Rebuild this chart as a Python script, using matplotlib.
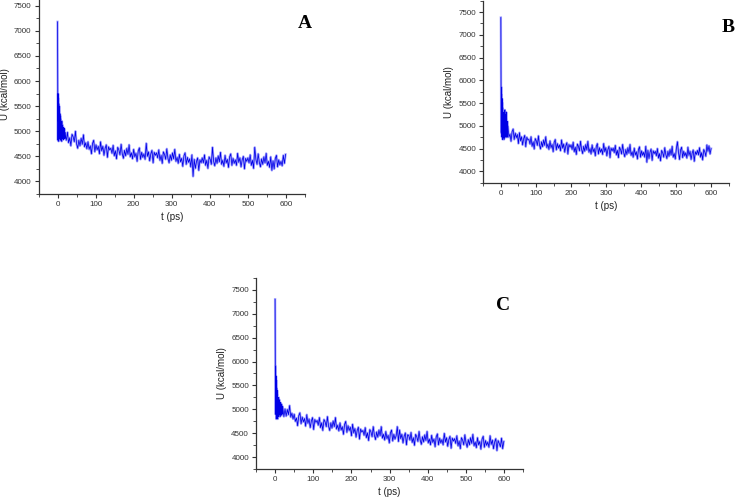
import numpy as np
import matplotlib
matplotlib.use("Agg")
import matplotlib.pyplot as plt
from matplotlib.ticker import MultipleLocator

# time axis (ps): 0.5 ps steps at the start, then 3 ps steps
t = np.concatenate([np.arange(0, 20, 0.5), np.arange(20, 600, 3)])

u_a = [7180, 5900, 4820, 5750, 5200, 5650, 4800, 5550, 5000, 5500,
       4850, 5400, 4900, 5350, 4820, 5300, 5000, 5250, 4850, 5200,
       4900, 5150, 4800, 5200, 4950, 5100, 4850, 5120, 4900, 5050,
       4830, 5080, 4950, 5000, 4860, 5060, 4900, 5020, 4850, 4980,
       4920, 4820, 4980, 4770, 4870, 4710, 4940, 4890, 4790, 5000,
       4750, 4660, 4820, 4710, 4860, 4740, 4930, 4690, 4770, 4650,
       4790, 4640, 4710, 4550, 4760, 4820, 4590, 4730, 4630, 4700,
       4550, 4790, 4610, 4700, 4520, 4660, 4730, 4480, 4690, 4630,
       4660, 4560, 4720, 4510, 4610, 4450, 4680, 4630, 4530, 4740,
       4550, 4460, 4620, 4510, 4660, 4540, 4730, 4490, 4570, 4450,
       4640, 4490, 4560, 4400, 4610, 4670, 4440, 4580, 4480, 4550,
       4440, 4760, 4500, 4590, 4410, 4550, 4620, 4370, 4580, 4520,
       4570, 4470, 4630, 4420, 4520, 4360, 4590, 4540, 4440, 4650,
       4460, 4370, 4530, 4420, 4570, 4450, 4640, 4400, 4480, 4360,
       4540, 4390, 4460, 4300, 4510, 4570, 4340, 4480, 4380, 4450,
       4290, 4530, 4100, 4440, 4260, 4400, 4470, 4220, 4430, 4370,
       4470, 4370, 4530, 4320, 4420, 4260, 4490, 4440, 4340, 4680,
       4400, 4310, 4470, 4360, 4510, 4390, 4580, 4340, 4420, 4300,
       4520, 4370, 4440, 4280, 4490, 4550, 4320, 4460, 4360, 4430,
       4320, 4560, 4380, 4470, 4290, 4430, 4500, 4250, 4460, 4400,
       4470, 4370, 4530, 4320, 4420, 4260, 4680, 4440, 4340, 4550,
       4380, 4290, 4450, 4340, 4490, 4370, 4560, 4320, 4400, 4280,
       4490, 4220, 4410, 4250, 4460, 4520, 4290, 4430, 4330, 4400,
       4310, 4520, 4360, 4540]

u_b = [7380, 5950, 4850, 5850, 5300, 5700, 4750, 5600, 4950, 5500,
       4700, 5400, 4900, 5300, 4750, 5250, 4850, 5200, 4700, 5150,
       4800, 5300, 4850, 5350, 4750, 5200, 4900, 5250, 4800, 5100,
       4750, 5300, 4850, 5150, 4800, 5050, 4750, 5100, 4800, 5000,
       5000, 4750, 4820, 4660, 4870, 4930, 4700, 4840, 4740, 4810,
       4610, 4850, 4670, 4760, 4580, 4720, 4790, 4540, 4750, 4690,
       4700, 4600, 4760, 4550, 4650, 4490, 4720, 4670, 4570, 4780,
       4580, 4490, 4650, 4540, 4690, 4570, 4760, 4520, 4600, 4480,
       4670, 4520, 4590, 4430, 4640, 4700, 4470, 4610, 4510, 4580,
       4450, 4690, 4510, 4600, 4420, 4560, 4630, 4380, 4590, 4530,
       4580, 4480, 4640, 4430, 4530, 4370, 4600, 4550, 4450, 4660,
       4480, 4390, 4550, 4440, 4590, 4470, 4660, 4420, 4500, 4380,
       4580, 4430, 4500, 4340, 4550, 4610, 4380, 4520, 4420, 4490,
       4370, 4610, 4430, 4520, 4340, 4480, 4550, 4300, 4510, 4450,
       4510, 4410, 4570, 4360, 4460, 4300, 4530, 4480, 4380, 4590,
       4410, 4320, 4480, 4370, 4520, 4400, 4590, 4350, 4430, 4310,
       4510, 4360, 4430, 4270, 4480, 4540, 4310, 4450, 4350, 4420,
       4310, 4550, 4200, 4460, 4280, 4420, 4490, 4240, 4450, 4390,
       4440, 4340, 4500, 4290, 4390, 4230, 4460, 4410, 4310, 4520,
       4370, 4280, 4440, 4330, 4480, 4360, 4550, 4310, 4390, 4270,
       4500, 4650, 4420, 4260, 4470, 4530, 4300, 4440, 4340, 4410,
       4290, 4530, 4350, 4440, 4260, 4400, 4470, 4220, 4430, 4370,
       4460, 4360, 4520, 4310, 4410, 4250, 4480, 4430, 4330, 4580,
       4440, 4560, 4380, 4500]

u_c = [7300, 6050, 4900, 5900, 5350, 5700, 4800, 5600, 5050, 5450,
       4850, 5400, 4950, 5300, 4800, 5250, 5000, 5200, 4850, 5250,
       4950, 5150, 4900, 5200, 5000, 5100, 4850, 5150, 4950, 5080,
       4900, 5120, 4980, 5050, 4880, 5100, 4950, 5020, 4900, 5060,
       5060, 4850, 5010, 4860, 5000, 4890, 5080, 4840, 4920, 4800,
       4900, 4750, 4820, 4660, 4870, 4930, 4700, 4840, 4740, 4810,
       4650, 4890, 4710, 4800, 4620, 4760, 4830, 4580, 4790, 4730,
       4770, 4670, 4830, 4620, 4720, 4560, 4790, 4740, 4640, 4850,
       4650, 4560, 4720, 4610, 4760, 4640, 4830, 4590, 4670, 4550,
       4720, 4570, 4640, 4480, 4690, 4750, 4520, 4660, 4560, 4630,
       4450, 4690, 4510, 4600, 4420, 4560, 4630, 4380, 4590, 4530,
       4560, 4460, 4620, 4410, 4510, 4350, 4580, 4530, 4430, 4640,
       4460, 4370, 4530, 4420, 4570, 4450, 4640, 4400, 4480, 4360,
       4540, 4390, 4460, 4300, 4510, 4570, 4340, 4480, 4380, 4450,
       4640, 4330, 4570, 4390, 4480, 4300, 4440, 4510, 4260, 4470,
       4460, 4360, 4520, 4310, 4410, 4250, 4480, 4430, 4330, 4540,
       4360, 4270, 4430, 4320, 4470, 4350, 4540, 4300, 4380, 4260,
       4460, 4310, 4380, 4220, 4430, 4490, 4260, 4400, 4300, 4370,
       4260, 4500, 4320, 4410, 4230, 4370, 4440, 4190, 4400, 4340,
       4390, 4290, 4450, 4240, 4340, 4180, 4410, 4360, 4260, 4470,
       4300, 4210, 4370, 4260, 4410, 4290, 4480, 4240, 4320, 4200,
       4410, 4260, 4330, 4170, 4380, 4440, 4210, 4350, 4250, 4320,
       4210, 4450, 4270, 4360, 4180, 4320, 4390, 4140, 4350, 4290,
       4220, 4400, 4180, 4330]

panel_labels = ["A", "B", "C"]
series = [u_a, u_b, u_c]

W, H = 736, 499
fig = plt.figure(figsize=(W / 100, H / 100), dpi=100)

# axes boxes in pixels: left, right, bottom, top
boxes = [(38.5, 305, 194, -6.8), (483.3, 729, 182.7, 0.7), (256, 523.3, 469.3, 277.7)]
letter_pos = [(305, 24), (728, 27), (503, 305)]

for (l, r, b, tp), u, lab, (lx, ly) in zip(boxes, series, panel_labels, letter_pos):
    ax = fig.add_axes([l / W, 1 - b / H, (r - l) / W, (b - tp) / H])
    ax.plot(t, u, color="#a8a8ff", lw=1.7)
    ax.plot(t, u, color="#0000e6", lw=0.55)
    ax.set_xlim(-50, 650)
    ax.set_ylim(3750, 7750)
    ax.xaxis.set_major_locator(MultipleLocator(100))
    ax.xaxis.set_minor_locator(MultipleLocator(50))
    ax.yaxis.set_major_locator(MultipleLocator(500))
    ax.yaxis.set_minor_locator(MultipleLocator(250))
    for s in ("top", "right"):
        ax.spines[s].set_visible(False)
    for s in ("left", "bottom"):
        ax.spines[s].set_linewidth(0.9)
        ax.spines[s].set_color("#333333")
    ax.tick_params(which="major", direction="out", length=3, width=0.8,
                   labelsize=5.8, colors="#333333", pad=2)
    ax.tick_params(which="minor", direction="out", length=2, width=0.6, colors="#333333")
    for lbl in ax.get_xticklabels() + ax.get_yticklabels():
        lbl.set_fontfamily("Liberation Sans")
    ax.set_xlabel("t (ps)", fontsize=7, family="Liberation Sans", color="#222222", labelpad=3)
    ax.set_ylabel("U (kcal/mol)", fontsize=7, family="Liberation Sans", color="#222222", labelpad=3)
    fig.text(lx / W, 1 - ly / H, lab, fontsize=14, fontweight="bold",
             family="Liberation Serif", ha="center", va="center")

fig.savefig("out.png", dpi=100)
